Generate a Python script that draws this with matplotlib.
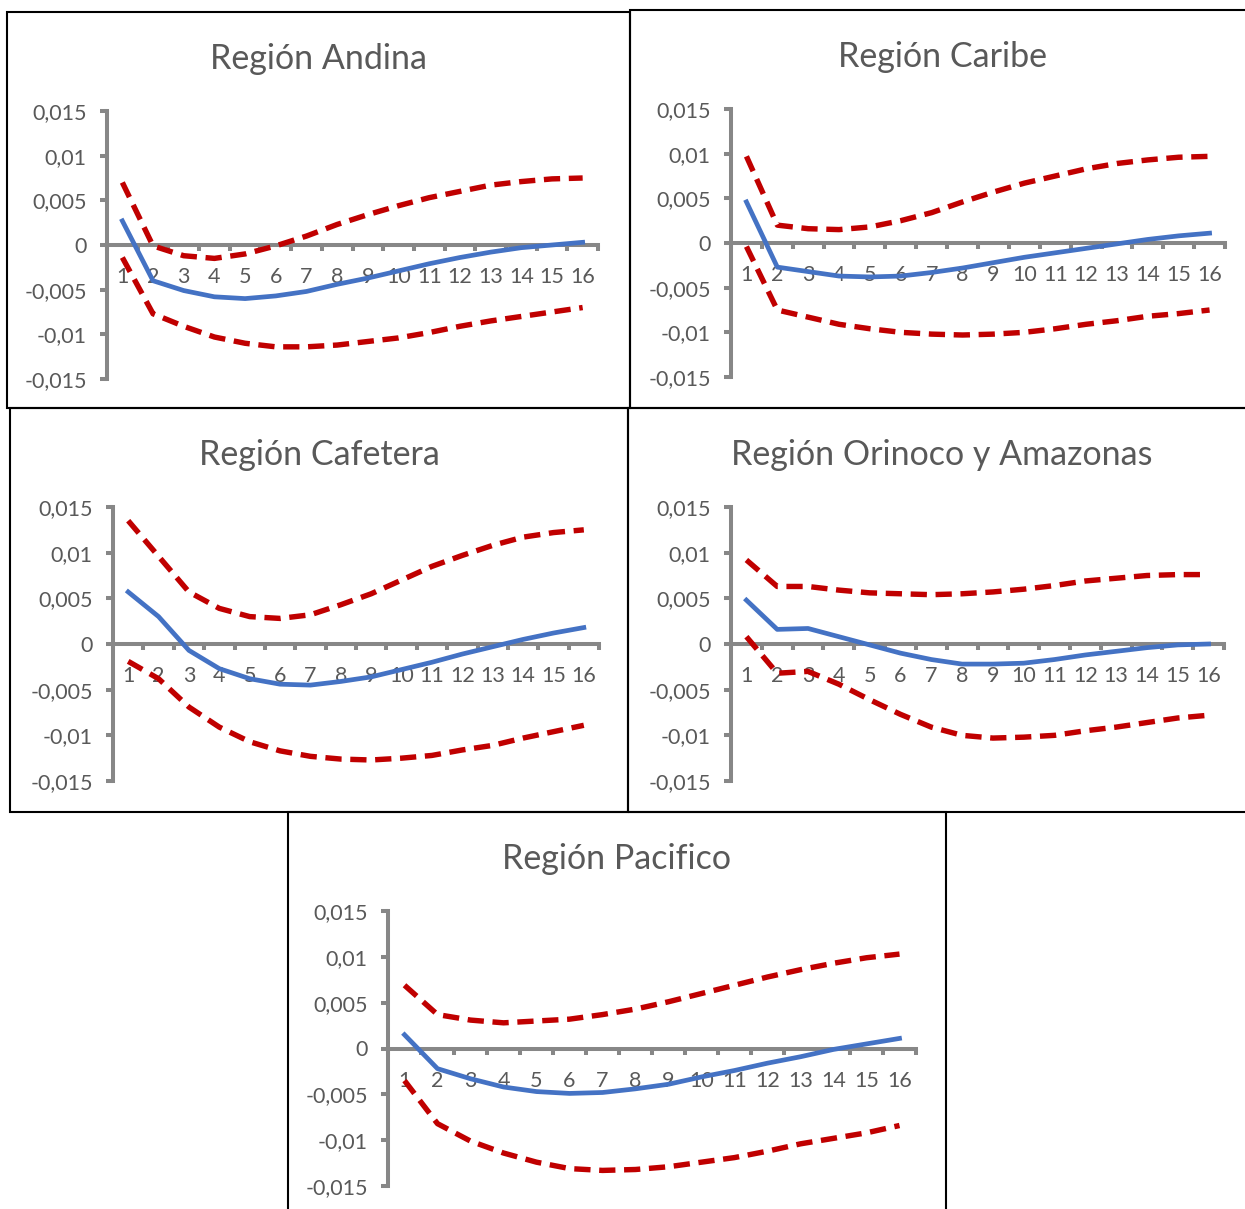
import matplotlib
matplotlib.use("Agg")
import matplotlib.pyplot as plt
from matplotlib.patches import Rectangle
from matplotlib.ticker import FixedLocator, FuncFormatter

periods = list(range(1, 17))

andina_irf = [0.0027, -0.0040, -0.0051, -0.0058, -0.0060, -0.0057, -0.0052, -0.0044,
              -0.0037, -0.0029, -0.0021, -0.0014, -0.0008, -0.0003, 0.0000, 0.0003]
andina_up = [0.0070, -0.0001, -0.0012, -0.0015, -0.0010, -0.0001, 0.0010, 0.0023,
             0.0034, 0.0044, 0.0053, 0.0060, 0.0067, 0.0071, 0.0074, 0.0075]
andina_lo = [-0.0014, -0.0077, -0.0091, -0.0103, -0.0110, -0.0114, -0.0114, -0.0112,
             -0.0108, -0.0104, -0.0098, -0.0091, -0.0085, -0.0080, -0.0075, -0.0070]

caribe_irf = [0.0046, -0.0027, -0.0032, -0.0037, -0.0038, -0.0037, -0.0033, -0.0028,
              -0.0022, -0.0016, -0.0011, -0.0006, -0.0001, 0.0004, 0.0008, 0.0011]
caribe_up = [0.0097, 0.0020, 0.0016, 0.0015, 0.0018, 0.0025, 0.0034, 0.0046,
             0.0057, 0.0067, 0.0075, 0.0083, 0.0089, 0.0093, 0.0096, 0.0097]
caribe_lo = [-0.0004, -0.0075, -0.0083, -0.0091, -0.0096, -0.0100, -0.0102, -0.0103,
             -0.0102, -0.0100, -0.0096, -0.0091, -0.0087, -0.0082, -0.0079, -0.0075]

cafetera_irf = [0.0057, 0.0030, -0.0007, -0.0027, -0.0038, -0.0044, -0.0045, -0.0041,
                -0.0036, -0.0028, -0.0020, -0.0011, -0.0003, 0.0005, 0.0012, 0.0018]
cafetera_up = [0.0135, 0.0096, 0.0057, 0.0039, 0.0030, 0.0028, 0.0032, 0.0043,
               0.0055, 0.0070, 0.0085, 0.0097, 0.0108, 0.0117, 0.0122, 0.0125]
cafetera_lo = [-0.0019, -0.0038, -0.0069, -0.0091, -0.0107, -0.0117, -0.0123, -0.0126,
               -0.0127, -0.0125, -0.0122, -0.0116, -0.0111, -0.0103, -0.0096, -0.0089]

orinoco_irf = [0.0048, 0.0016, 0.0017, 0.0008, -0.0001, -0.0010, -0.0017, -0.0022,
               -0.0022, -0.0021, -0.0017, -0.0012, -0.0008, -0.0004, -0.0001, 0.0000]
orinoco_up = [0.0092, 0.0063, 0.0063, 0.0059, 0.0056, 0.0055, 0.0054, 0.0055,
              0.0057, 0.0060, 0.0064, 0.0069, 0.0072, 0.0075, 0.0076, 0.0076]
orinoco_lo = [0.0008, -0.0032, -0.0030, -0.0044, -0.0061, -0.0077, -0.0091, -0.0100,
              -0.0103, -0.0102, -0.0100, -0.0095, -0.0091, -0.0086, -0.0081, -0.0078]

pacifico_irf = [0.0015, -0.0022, -0.0033, -0.0042, -0.0047, -0.0049, -0.0048, -0.0044,
                -0.0039, -0.0031, -0.0024, -0.0016, -0.0009, -0.0001, 0.0005, 0.0011]
pacifico_up = [0.0069, 0.0037, 0.0031, 0.0028, 0.0030, 0.0032, 0.0037, 0.0043,
               0.0051, 0.0060, 0.0069, 0.0078, 0.0086, 0.0093, 0.0099, 0.0103]
pacifico_lo = [-0.0035, -0.0082, -0.0101, -0.0114, -0.0124, -0.0131, -0.0133, -0.0132,
               -0.0129, -0.0124, -0.0119, -0.0112, -0.0104, -0.0098, -0.0092, -0.0084]

titles = ["Región Andina", "Región Caribe", "Región Cafetera",
          "Región Orinoco y Amazonas", "Región Pacifico"]
yticks = [-0.015, -0.01, -0.005, 0, 0.005, 0.01, 0.015]

W, H = 1245, 1209
fig = plt.figure(figsize=(W / 100, H / 100), dpi=100)
plt.rcParams['font.family'] = ['Lato', 'DejaVu Sans']

# axes boxes in pixels (left, top, right, bottom) and panel borders
axes_px = [(107, 111, 598, 379), (731, 109, 1225, 377), (113, 507, 599, 781),
           (731, 507, 1224, 781), (388, 911, 916, 1186)]
border_px = [(7, 12, 630, 408), (630, 10, 1255, 408), (10, 408, 628, 812),
             (628, 408, 1255, 812), (288, 812, 946, 1215)]
series = [(andina_irf, andina_up, andina_lo), (caribe_irf, caribe_up, caribe_lo),
          (cafetera_irf, cafetera_up, cafetera_lo), (orinoco_irf, orinoco_up, orinoco_lo),
          (pacifico_irf, pacifico_up, pacifico_lo)]

gray = "#878787"
txt = "#595959"
red = "#C00000"
blue = "#4472C4"


def fmt(v, pos):
    if abs(v) < 1e-12:
        return "0"
    return ("%g" % v).replace(".", ",")


for (l, t, r, b), (bl, bt, br, bb), (irf, up, lo), title in zip(axes_px, border_px, series, titles):
    fig.add_artist(Rectangle((bl / W, 1 - bb / H), (br - bl) / W, (bb - bt) / H,
                             transform=fig.transFigure, fill=False, ec="black", lw=1.5))
    ax = fig.add_axes([l / W, 1 - b / H, (r - l) / W, (b - t) / H])
    ax.plot(periods, up, color=red, lw=3.9, ls=(0, (3.0, 1.6)), zorder=3)
    ax.plot(periods, lo, color=red, lw=3.9, ls=(0, (3.0, 1.6)), zorder=3)
    ax.plot(periods, irf, color=blue, lw=3.4, zorder=4, solid_joinstyle="round")
    ax.set_xlim(0.5, 16.5)
    ax.set_ylim(-0.015, 0.015)
    for s in ["top", "right"]:
        ax.spines[s].set_visible(False)
    ax.spines["bottom"].set_position(("data", 0))
    for s in ["left", "bottom"]:
        ax.spines[s].set_color(gray)
        ax.spines[s].set_linewidth(2.9)
        ax.spines[s].set_zorder(2)
    ax.set_yticks(yticks)
    ax.yaxis.set_major_formatter(FuncFormatter(fmt))
    ax.tick_params(axis="y", length=5, width=2.9, color=gray, labelcolor=txt,
                   labelsize=15.5, pad=9.5)
    ax.xaxis.set_major_locator(FixedLocator([p + 0.5 for p in [0] + periods]))
    ax.xaxis.set_minor_locator(FixedLocator(periods))
    ax.xaxis.set_major_formatter(FuncFormatter(lambda v, p: ""))
    ax.xaxis.set_minor_formatter(FuncFormatter(lambda v, p: "%d" % round(v)))
    ax.tick_params(axis="x", which="major", length=4.5, width=2.9, color=gray, direction="out")
    ax.tick_params(axis="x", which="minor", length=0, labelcolor=txt, labelsize=15.5, pad=16)
    ax.patch.set_visible(False)
    fig.text((bl + br) / 2 / W, 1 - (bt + 47) / H, title, ha="center", va="center",
             fontsize=24.5, color=txt)

fig.savefig("out.png", dpi=100)
